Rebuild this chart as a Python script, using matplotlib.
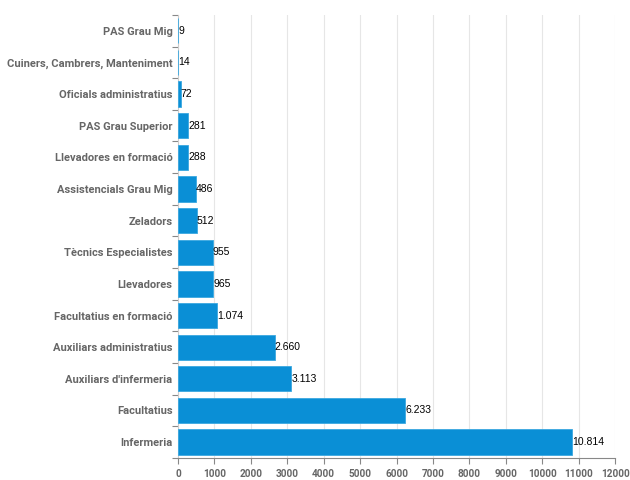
import matplotlib.pyplot as plt
import numpy as np

categories = ['Infermeria', 'Facultatius', "Auxiliars d'infermeria", 'Auxiliars administratius',
              'Facultatius en formació', 'Llevadores', 'Tècnics Especialistes', 'Zeladors',
              'Assistencials Grau Mig', 'Llevadores en formació', 'PAS Grau Superior',
              'Oficials administratius', 'Cuiners, Cambrers, Manteniment', 'PAS Grau Mig']
values = [10814, 6233, 3113, 2660, 1074, 965, 955, 512, 486, 288, 281, 72, 14, 9]
x_ticks = list(range(0, 12001, 1000))

plt.rcParams['font.family'] = ['Roboto', 'DejaVu Sans']

fig = plt.figure(figsize=(6.3, 4.8), dpi=100)
ax = fig.add_axes([0.2825, 0.046, 0.694, 0.923])

y = np.arange(len(categories))
ax.barh(y, values, height=0.8, color='#0a8fd6', edgecolor='#3aa8e0', linewidth=0.6, zorder=3)

for yi, v in zip(y, values):
    lbl = '{:,}'.format(v).replace(',', '.')
    ax.text(v, yi, lbl, va='center', ha='left', fontsize=7.5, color='black', zorder=4,
            family=['Liberation Sans Narrow', 'Liberation Sans'])

ax.set_xlim(0, 12000)
ax.set_ylim(-0.5, len(categories) - 0.5)
ax.set_xticks(x_ticks)
ax.set_xticklabels([str(t) for t in x_ticks], fontsize=7.2, color='#666666', fontweight='bold')
ax.set_yticks(y)
ax.set_yticklabels(categories, fontsize=8, color='#666666', fontweight='bold')
ax.set_yticks(np.arange(-0.5, len(categories), 1.0), minor=True)
ax.tick_params(axis='y', which='major', length=0, pad=4)
ax.tick_params(axis='y', which='minor', length=4, color='#888888', width=0.8)
ax.tick_params(axis='x', length=4, color='#888888', width=0.8, pad=4)

ax.grid(axis='x', color='#e6e6e6', linewidth=0.8, zorder=0)
for s in ['top', 'right']:
    ax.spines[s].set_visible(False)
ax.spines['bottom'].set_color('#888888')
ax.spines['left'].set_color('#cccccc')

fig.savefig('out.png', dpi=100)
